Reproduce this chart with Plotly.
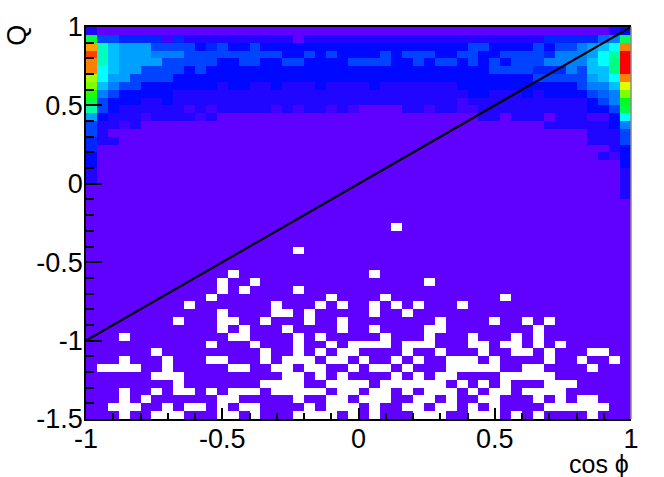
import numpy as np
import plotly.graph_objects as go

# Histogram levels: 0 = lowest (violet) ... 35 = highest (red)
# Each row (from Q=1 downward) is a list of (first column, level) runs
TOP_ROWS = [
    [(0,2),(1,0),(48,2),(49,3)],
    [(0,17),(1,5),(3,4),(7,1),(8,4),(9,2),(19,0),(20,2),(42,4),(47,6),(48,7),(49,16)],
    [(0,30),(1,13),(2,9),(3,8),(6,5),(10,3),(11,4),(12,5),(13,3),(15,5),(16,3),(35,5),(37,3),(41,5),(42,3),(43,5),(45,7),(46,8),(47,9),(48,11),(49,31)],
    [(0,33),(1,13),(2,9),(3,8),(6,7),(9,5),(18,3),(20,5),(21,3),(22,5),(23,3),(27,5),(28,3),(29,5),(32,3),(34,5),(36,3),(38,5),(42,4),(43,7),(46,8),(47,11),(48,14),(49,35)],
    [(0,31),(1,13),(2,9),(3,8),(7,5),(12,3),(14,5),(16,3),(18,5),(20,3),(24,5),(28,3),(30,5),(31,3),(32,5),(34,3),(35,5),(36,3),(37,5),(38,3),(39,5),(42,7),(46,9),(47,11),(48,15),(49,35)],
    [(0,31),(1,11),(2,9),(3,8),(5,5),(9,3),(10,5),(11,3),(37,5),(41,4),(44,7),(45,5),(46,9),(48,15),(49,35)],
    [(0,24),(1,11),(2,8),(4,5),(8,3),(41,5),(46,8),(47,9),(48,11),(49,31)],
    [(0,23),(1,9),(2,7),(3,5),(5,3),(12,2),(13,3),(15,2),(17,3),(18,2),(21,3),(22,2),(26,3),(27,2),(34,3),(45,5),(46,7),(48,9),(49,26)],
    [(0,20),(1,7),(2,5),(3,3),(8,2),(35,3),(37,2),(40,3),(41,2),(42,3),(46,5),(47,6),(48,7),(49,23)],
    [(0,17),(1,5),(2,3),(5,2),(7,3),(8,2),(34,1),(35,2),(46,3),(47,5),(48,7),(49,18)],
    [(0,14),(1,5),(2,3),(3,2),(9,1),(10,2),(11,1),(12,2),(17,1),(18,2),(19,1),(20,2),(22,1),(23,2),(24,1),(25,0),(29,2),(31,1),(32,2),(34,1),(36,2),(46,3),(48,5),(49,17)],
    [(0,8),(1,3),(2,2),(5,1),(6,2),(10,1),(11,2),(12,0),(36,2),(38,0),(39,2),(42,0),(43,2),(46,1),(48,3),(49,11)],
    [(0,5),(1,2),(3,1),(4,2),(5,0),(42,2),(48,3),(49,7)],
    [(0,5),(1,2),(2,0),(46,2),(49,5)],
    [(0,4),(1,2),(3,0),(46,2),(49,5)],
    [(0,4),(1,0),(48,2),(49,3)],
    [(0,3),(1,0),(47,2),(48,1),(49,3)],
    [(0,3),(1,0),(49,3)],
    [(0,2),(1,0),(49,2)],
    [(0,2),(1,0),(49,2)],
    [(0,0),(49,2)],
    [(0,0),(49,2)],
]

# Empty bins: row index -> columns with no entries
EMPTY_BINS = {
    25: [28],
    28: [19],
    31: [13, 26],
    32: [12, 15, 31],
    33: [12, 14, 19],
    34: [11, 22, 27, 38],
    35: [9, 17, 21, 23, 26, 28, 30, 34],
    36: [12, 17, 18, 20, 26, 29],
    37: [8, 12, 13, 16, 20, 23, 32, 37, 40, 42],
    38: [12, 14, 18, 23, 26, 31, 32, 41],
    39: [3, 13, 14, 19, 21, 27, 31, 35, 39, 41],
    40: [11, 15, 19, 22, 24, 25, 26, 27, 29, 30, 31, 35, 36, 38, 39, 41, 43],
    41: [6, 16, 19, 21, 23, 24, 29, 32, 36, 39, 40, 42, 46, 47],
    42: [3, 7, 11, 12, 16, 18, 19, 20, 22, 23, 25, 28, 30, 33, 34, 35, 37, 42, 45, 48],
    43: [1, 2, 3, 4, 7, 13, 14, 17, 18, 20, 21, 24, 26, 27, 29, 33, 34, 35, 36, 37, 40, 41, 46],
    44: [6, 7, 8, 18, 19, 21, 23, 28, 30, 32, 33, 38, 39, 40, 41, 42],
    45: [8, 16, 17, 18, 19, 22, 23, 24, 25, 27, 28, 29, 30, 31, 32, 34, 36, 38, 42, 43, 44],
    46: [3, 6, 8, 9, 11, 13, 14, 15, 17, 18, 19, 20, 21, 23, 24, 26, 27, 29, 31, 32, 33, 35, 37, 38, 40, 41, 42, 43],
    47: [3, 5, 12, 13, 19, 22, 23, 25, 26, 27, 30, 31, 33, 36, 37, 41, 43, 45, 46],
    48: [2, 3, 4, 7, 9, 10, 12, 14, 15, 20, 22, 23, 24, 26, 29, 30, 32, 33, 35, 37, 42, 43, 44, 45, 46, 47],
    49: [3, 6, 7, 8, 12, 13, 15, 19, 20, 21, 22, 24, 26, 30, 31, 32, 35, 36, 37, 39, 41, 46],
}

X_TICKS = [-1, -0.5, 0, 0.5, 1]
X_TICK_LABELS = ["-1", "-0.5", "0", "0.5", "1"]
Y_TICKS = [-1.5, -1, -0.5, 0, 0.5, 1]
Y_TICK_LABELS = ["-1.5", "-1", "-0.5", "0", "0.5", "1"]
LINE_X = [-1, 1]
LINE_Y = [-1, 1]

N = 50
x_centers = -1 + (np.arange(N) + 0.5) * 2 / N
y_centers = 1 - (np.arange(N) + 0.5) * 2.5 / N

z = np.zeros((N, N))
for r, runs in enumerate(TOP_ROWS):
    for k, (start, level) in enumerate(runs):
        end = runs[k + 1][0] if k + 1 < len(runs) else N
        z[r, start:end] = level
z = z.tolist()
for r, cols in EMPTY_BINS.items():
    for c in cols:
        z[r][c] = None

palette = [(0, "#6000ff"), (3, "#0008ff"), (7, "#0080ff"), (11, "#00ffff"), (15, "#00ff80"),
           (19, "#00ff00"), (23, "#80ff00"), (27, "#ffff00"), (31, "#ff8000"), (35, "#ff0000")]
colorscale = [[v / 35, c] for v, c in palette]

fig = go.Figure()
fig.add_trace(go.Heatmap(x=x_centers, y=y_centers, z=z, zmin=0, zmax=35, colorscale=colorscale,
                         showscale=False, hoverongaps=False))
fig.add_trace(go.Scatter(x=LINE_X, y=LINE_Y, mode="lines", line=dict(color="black", width=2.2),
                         showlegend=False))

FONT = "Liberation Sans"
fig.update_layout(
    width=664, height=477, autosize=False,
    margin=dict(l=86, r=33, t=23, b=58),
    paper_bgcolor="white", plot_bgcolor="white",
    font=dict(family=FONT, size=27, color="black"),
    xaxis=dict(range=[-1, 1], tickvals=X_TICKS, ticktext=X_TICK_LABELS, ticks="inside", ticklen=11,
               tickwidth=1.5, tickcolor="black", showgrid=False, zeroline=False, showline=True,
               linecolor="black", linewidth=1.5, mirror=True, tickfont=dict(size=27), ticklabelstandoff=-5,
               minor=dict(tickvals=[round(-1 + 0.1 * i, 1) for i in range(21)], ticks="inside", ticklen=6,
                          tickwidth=1.5, tickcolor="black", showgrid=False)),
    yaxis=dict(range=[-1.5, 1], tickvals=Y_TICKS, ticktext=Y_TICK_LABELS, ticks="inside", ticklen=16,
               tickwidth=1.5, tickcolor="black", showgrid=False, zeroline=False, showline=True,
               linecolor="black", linewidth=1.5, tickfont=dict(size=27), ticklabelstandoff=-4,
               minor=dict(tickvals=[round(-1.5 + 0.1 * i, 1) for i in range(26)], ticks="inside", ticklen=8,
                          tickwidth=1.5, tickcolor="black", showgrid=False)),
    annotations=[
        dict(text="cos ϕ", xref="paper", yref="paper", x=1, y=-0.115, xanchor="right", yanchor="middle",
             showarrow=False, font=dict(size=25, family=FONT)),
        dict(text="Q", xref="paper", yref="paper", x=-0.127, y=0.98, xanchor="center", yanchor="middle",
             textangle=-90, showarrow=False, font=dict(size=27, family=FONT)),
    ],
    shapes=[dict(type="line", xref="paper", yref="paper", x0=1, x1=1, y0=0, y1=1,
                 line=dict(color="#888888", width=1.5))],
)
fig.write_html("out.html", post_script="document.body.style.margin='0';", config={"displayModeBar": False})
